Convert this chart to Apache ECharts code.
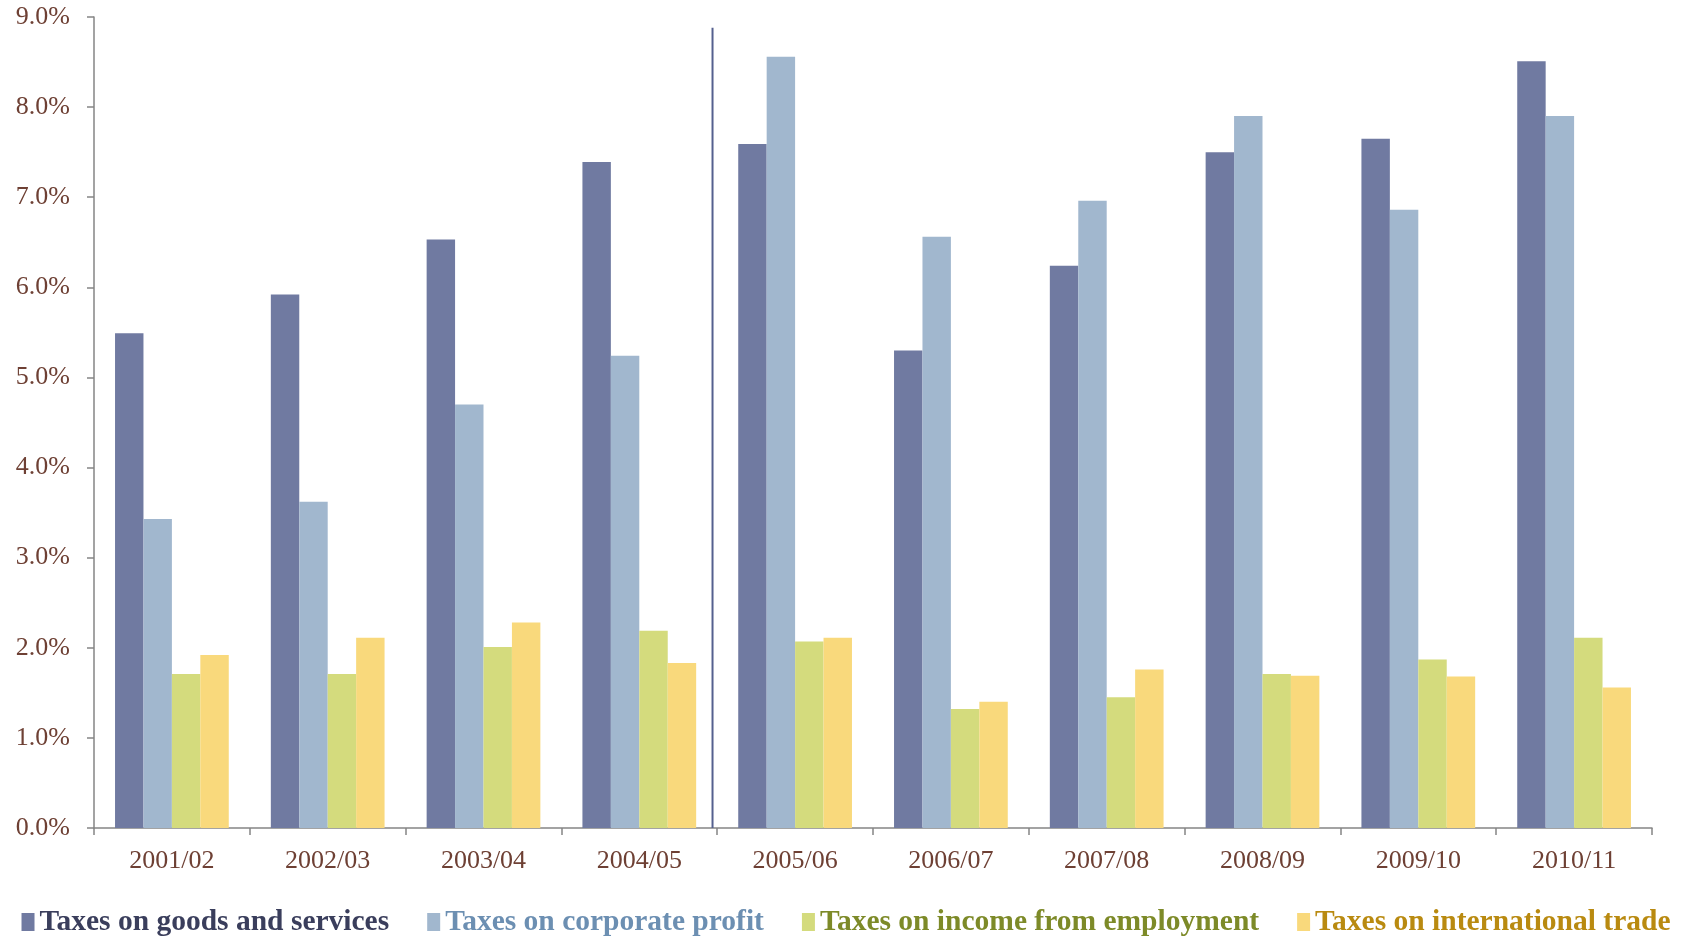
<!DOCTYPE html>
<html>
<head>
<meta charset="utf-8">
<script src="https://cdn.jsdelivr.net/npm/echarts@6/dist/echarts.min.js"></script>
<style>html,body{margin:0;padding:0;background:#fff;}#c{width:1692px;height:937px;}</style>
</head>
<body>
<div id="c"></div>
<script>
const categories = ['2001/02','2002/03','2003/04','2004/05','2005/06','2006/07','2007/08','2008/09','2009/10','2010/11'];
const seriesNames = ['Taxes on goods and services','Taxes on corporate profit','Taxes on income from employment','Taxes on international trade'];
const goods = [5.49,5.92,6.53,7.39,7.59,5.30,6.24,7.50,7.65,8.51];
const corporate = [3.43,3.62,4.70,5.24,8.56,6.56,6.96,7.90,6.86,7.90];
const income = [1.71,1.71,2.01,2.19,2.07,1.32,1.45,1.71,1.87,2.11];
const trade = [1.92,2.11,2.28,1.83,2.11,1.40,1.76,1.69,1.68,1.56];
const yTicks = [0,1,2,3,4,5,6,7,8,9];
const dividerPos = 3.97;   // position in category units (0..10)
const dividerTop = 8.88;   // percent

const barColors = ['#707AA1','#A1B7CE','#D4DB7D','#F9D97C'];
const legendColors = ['#3A3E5C','#6C8FB2','#7D8A28','#B98A10'];
const seriesData = [goods, corporate, income, trade];

const chart = echarts.init(document.getElementById('c'));
const font = '"Liberation Serif", "Times New Roman", serif';
const axisLine = {show:true, lineStyle:{color:'#858585', width:1.5}};

const bars = seriesNames.map((n,i)=>({
  name:n, type:'bar', data:seriesData[i], barGap:'0%', barCategoryGap:'27%',
  itemStyle:{color:barColors[i]}, xAxisIndex:0, yAxisIndex:0
}));

bars.push({
  name:'divider', type:'line', xAxisIndex:1, yAxisIndex:0,
  data:[[dividerPos,0],[dividerPos,dividerTop]],
  symbol:'none', lineStyle:{color:'#55608F', width:2}, silent:true, z:5
});

chart.setOption({
  animation:false,
  grid:{left:94, right:40, top:17, bottom:109},
  legend:{
    left:'center', bottom:-5, icon:'rect', itemWidth:13, itemHeight:18, itemGap:38,
    data: seriesNames.map((n,i)=>({name:n, textStyle:{color:legendColors[i]}})),
    textStyle:{fontFamily:font, fontSize:29.5, fontWeight:'bold'}
  },
  xAxis:[{
    type:'category', data:categories,
    axisLine:axisLine,
    axisTick:{show:true, length:7, lineStyle:{color:'#858585', width:1.5}},
    axisLabel:{color:'#6E4034', fontFamily:font, fontSize:26, margin:20},
    splitLine:{show:false}
  },{
    type:'value', min:0, max:10, show:false
  }],
  yAxis:{
    type:'value', min:yTicks[0], max:yTicks[yTicks.length-1], interval:1,
    axisLine:axisLine,
    axisTick:{show:true, length:7, lineStyle:{color:'#858585', width:1.5}},
    axisLabel:{color:'#6E4034', fontFamily:font, fontSize:26, margin:24,
      formatter:v=>v.toFixed(1)+'%'},
    splitLine:{show:false}
  },
  series:bars
});
</script>
</body>
</html>
